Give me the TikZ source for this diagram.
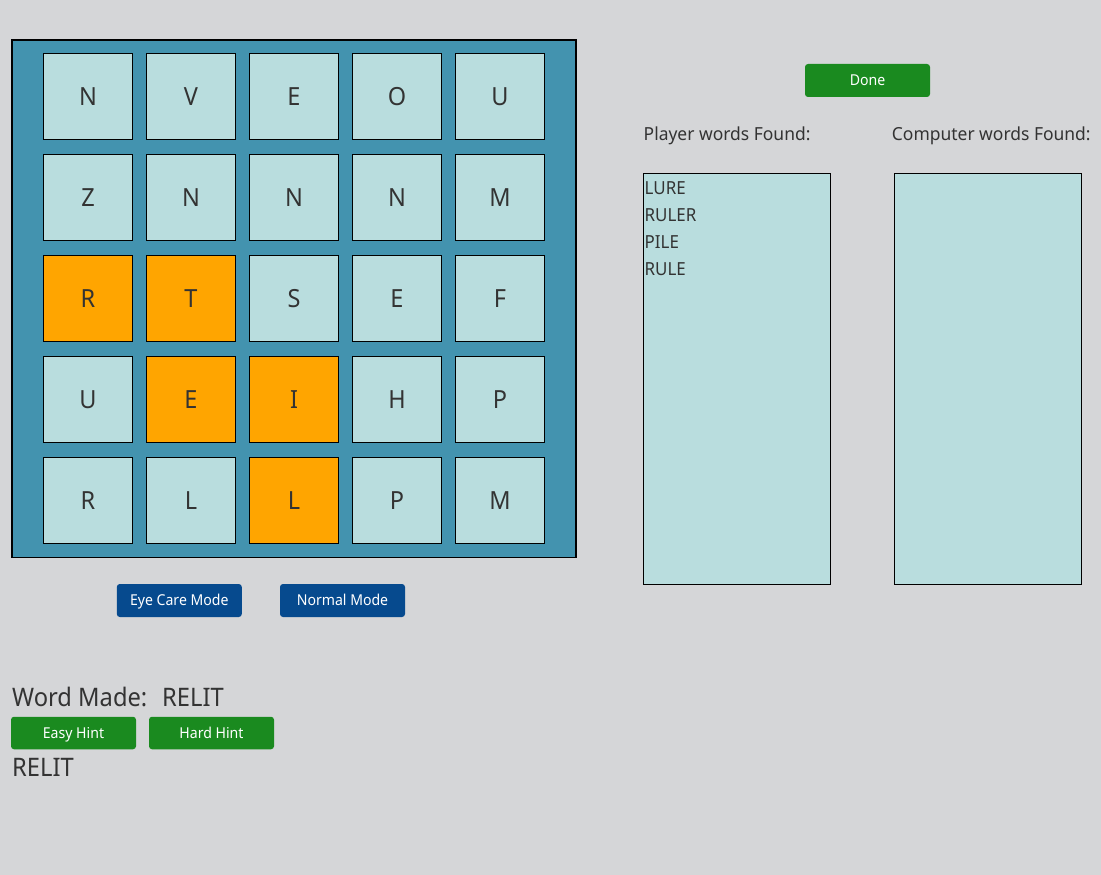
\documentclass[tikz,border=0pt]{standalone}
\usepackage{fontspec}
\setmainfont{Noto Sans}[FakeStretch=0.94]
\newfontfamily\bigfont{Noto Sans}[FakeStretch=0.93]
\newfontfamily\labfont{Noto Sans}[FakeStretch=0.97]
\definecolor{bg}{HTML}{D5D6D8}
\definecolor{boardc}{HTML}{4393AF}
\definecolor{cellc}{HTML}{B9DDDE}
\definecolor{selc}{HTML}{FFA500}
\definecolor{greenb}{HTML}{1A8A1F}
\definecolor{blueb}{HTML}{064A8E}
\definecolor{txt}{HTML}{333333}
\begin{document}
\begin{tikzpicture}[x=1pt,y=-1pt,
  cellbox/.style={draw=black, line width=1pt, minimum width=89pt, minimum height=86pt,
    inner sep=0pt, font=\fontsize{25}{30}\selectfont, text=txt},
  btn/.style={rounded corners=3pt, inner sep=0pt, minimum width=125pt, minimum height=33pt,
    font=\fontsize{15}{18}\selectfont, text=white, text height=10.7pt, text depth=0pt},
  greenbtn/.style={btn, fill=greenb},
  bluebtn/.style={btn, fill=blueb},
  listbox/.style={draw=black, line width=1pt, fill=cellc, minimum width=186.4pt, minimum height=411pt, inner sep=0pt},
  word/.style={anchor=base west, inner sep=0pt, text=txt, font=\fontsize{18}{22}\selectfont},
  label/.style={word, font=\labfont\fontsize{18}{22}\selectfont},
  big/.style={anchor=base west, inner sep=0pt, text=txt, font=\bigfont\fontsize{25.5}{30}\selectfont}]
\useasboundingbox[fill=bg] (0,0) rectangle (1101,875);
% board
\node[draw=black, line width=1.3pt, fill=boardc, minimum width=564pt, minimum height=517.7pt, inner sep=0pt] (board) at (294,298.8) {};
\foreach \row [count=\i] in {{N/cellc,V/cellc,E/cellc,O/cellc,U/cellc},
                             {Z/cellc,N/cellc,N/cellc,N/cellc,M/cellc},
                             {R/selc,T/selc,S/cellc,E/cellc,F/cellc},
                             {U/cellc,E/selc,I/selc,H/cellc,P/cellc},
                             {R/cellc,L/cellc,L/selc,P/cellc,M/cellc}} {
  \foreach \l/\f [count=\j] in \row {
    \node[cellbox, fill=\f] (c\i\j) at ({88+103*(\j-1)},{96.8+101*(\i-1)}) {\l};
  }
}
% buttons
\node[greenbtn] (done) at (867.5,80.5) {Done};
\node[bluebtn] (eye) at (179.3,600.5) {Eye Care Mode};
\node[bluebtn] (normal) at (342.5,600.5) {Normal Mode};
\node[greenbtn, minimum height=32.5pt] (easy) at (73.5,733) {Easy Hint};
\node[greenbtn, minimum height=32.5pt] (hard) at (211.5,733) {Hard Hint};
% word lists
\node[label] (plabel) at (643.5,140.7) {Player words Found:};
\node[label] (clabel) at (891.7,140.7) {Computer words Found:};
\node[listbox] (plist) at (737,379.3) {};
\node[listbox] (clist) at (988,379.3) {};
\node[word] (w1) at (644.5,194) {LURE};
\node[word] (w2) at (644.5,221) {RULER};
\node[word] (w3) at (644.5,248) {PILE};
\node[word] (w4) at (644.5,275) {RULE};
% word made
\node[big] (made) at (12,706.7) {Word Made:};
\node[big] (madeword) at (162,706.7) {RELIT};
\node[big] (hint) at (12,776.7) {RELIT};
\end{tikzpicture}
\end{document}
